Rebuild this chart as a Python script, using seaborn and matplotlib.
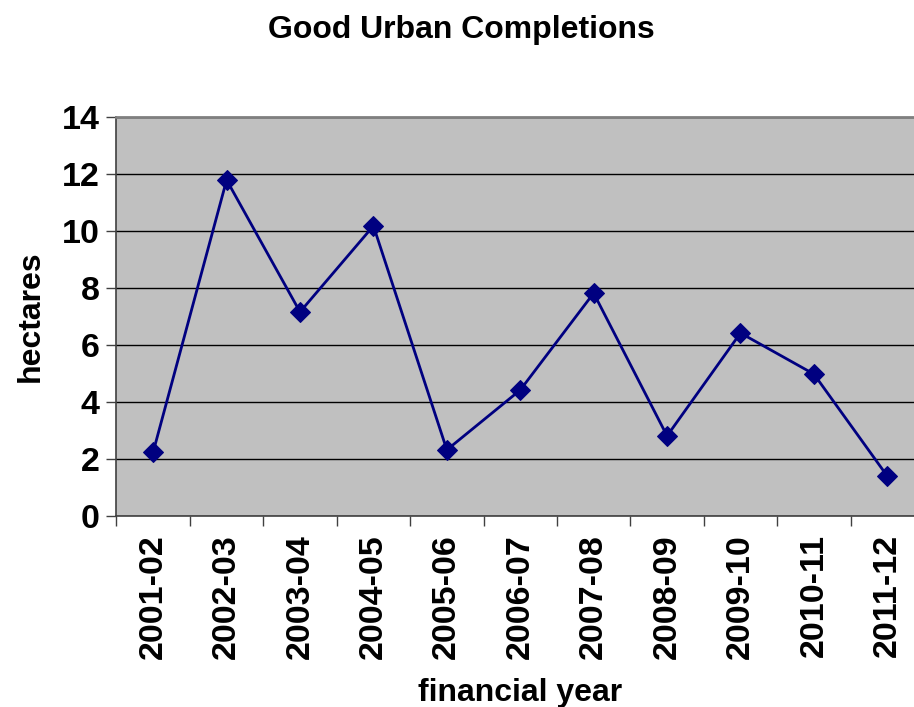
import numpy as np
import pandas as pd
import matplotlib
matplotlib.use("Agg")
import matplotlib.pyplot as plt
import seaborn as sns

# data
years = ["2001-02", "2002-03", "2003-04", "2004-05", "2005-06", "2006-07",
         "2007-08", "2008-09", "2009-10", "2010-11", "2011-12"]
hectares = [2.25, 11.79, 7.16, 10.18, 2.32, 4.42, 7.82, 2.81, 6.42, 4.98, 1.40]

LINE_COLOR = "#000080"
PLOT_BG = "#C0C0C0"

sns.set_style("white")
plt.rcParams["font.family"] = ["Liberation Sans", "DejaVu Sans"]
plt.rcParams["font.weight"] = "bold"
plt.rcParams["text.color"] = "black"
plt.rcParams["axes.labelcolor"] = "black"
plt.rcParams["xtick.color"] = "black"
plt.rcParams["ytick.color"] = "black"

df = pd.DataFrame({"year": years, "hectares": hectares})
df["pos"] = np.arange(len(df))

fig = plt.figure(figsize=(9.14, 7.07), dpi=100)
ax = fig.add_axes([116.5 / 914, 1 - 516 / 707, (924 - 116.5) / 914, (516 - 117) / 707])
ax.set_facecolor(PLOT_BG)

sns.lineplot(
    data=df,
    x="pos",
    y="hectares",
    color=LINE_COLOR,
    linewidth=2,
    marker="D",
    markersize=10,
    markeredgecolor=LINE_COLOR,
    ax=ax
)

ax.set_xlim(-0.5, len(years) - 0.5)
ax.set_ylim(0, 14)
ax.set_yticks(range(0, 15, 2))
ax.yaxis.grid(True, color="black", linewidth=1)
ax.set_axisbelow(True)

# labels at category centres, tick marks between categories
ax.set_xticks(df["pos"])
ax.set_xticklabels(years, rotation=90, fontsize=24.5, fontweight="bold")
ax.set_xticks(np.arange(-0.5, len(years), 1), minor=True)
ax.tick_params(axis="x", which="major", bottom=True, length=0, pad=13)
ax.tick_params(axis="x", which="minor", bottom=True, length=7, width=1,
               color="#404040", direction="out")
ax.tick_params(axis="y", left=True, length=7, width=1, color="#404040",
               direction="out", labelsize=24.5, pad=5)
for lbl in ax.get_yticklabels():
    lbl.set_fontweight("bold")

for side in ["left", "bottom"]:
    ax.spines[side].set_color("#404040")
    ax.spines[side].set_linewidth(1.2)
ax.spines["top"].set_color("#808080")
ax.spines["top"].set_linewidth(2)
ax.spines["right"].set_visible(False)

ax.set_xlabel("financial year", fontsize=23, fontweight="bold", labelpad=14)
ax.set_ylabel("hectares", fontsize=23, fontweight="bold", labelpad=12)
fig.text(461 / 914, 1 - 30 / 707, "Good Urban Completions", ha="center", va="center",
         fontsize=23, fontweight="bold")

plt.savefig("out.png", dpi=100)
